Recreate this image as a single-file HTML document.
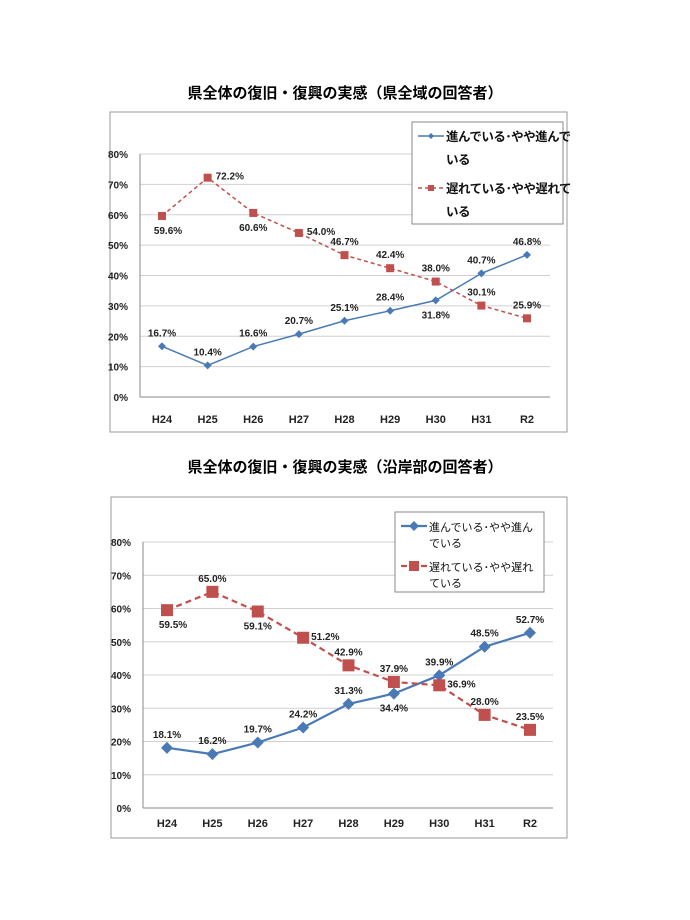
<!DOCTYPE html>
<html><head><meta charset="utf-8">
<style>
body{margin:0;background:#fff;width:690px;height:920px;overflow:hidden;font-family:"Liberation Sans","Noto Sans CJK JP",sans-serif;}
svg{position:absolute;left:0;top:0}
</style></head>
<body>
<svg id="s" width="690" height="920"></svg>
<script>
const categories = ["H24","H25","H26","H27","H28","H29","H30","H31","R2"];
const yTicks = [0,10,20,30,40,50,60,70,80];
const c1Progress = [16.7,10.4,16.6,20.7,25.1,28.4,31.8,40.7,46.8];
const c1Delayed = [59.6,72.2,60.6,54.0,46.7,42.4,38.0,30.1,25.9];
const c2Progress = [18.1,16.2,19.7,24.2,31.3,34.4,39.9,48.5,52.7];
const c2Delayed = [59.5,65.0,59.1,51.2,42.9,37.9,36.9,28.0,23.5];
const c1ProgPos = ["a","a","a","a","a","a","b","a","a"];
const c1DelPos = ["b","r","b","r","a","a","a","a","a"];
const c2ProgPos = ["a","a","a","a","a","b","a","a","a"];
const c2DelPos = ["b","a","b","r","a","a","r","a","a"];
const legendA = ["進んでいる･やや進んで","いる"];
const legendB = ["遅れている･やや遅れて","いる"];
const legendA2 = ["進んでいる･やや進ん","でいる"];
const legendB2 = ["遅れている･やや遅れ","ている"];

const NS="http://www.w3.org/2000/svg";
const svg=document.getElementById('s');
function mk(tag,attrs,parent,text){const e=document.createElementNS(NS,tag);for(const k in attrs)e.setAttribute(k,attrs[k]);if(text!==undefined)e.textContent=text;(parent||svg).appendChild(e);return e;}

function chart(cfg){
  const g=mk('g',{});
  
  
  const t=mk('text',{x:345,y:cfg.titleY,'text-anchor':'middle','font-size':15,'font-weight':'bold',fill:'#000'},g,cfg.title);
  
  
  const fr=mk('rect',{x:cfg.fx,y:cfg.fy,width:cfg.fw,height:cfg.fh,fill:'#fff',stroke:'#999','stroke-width':1},g);
  
  
  const y=v=>cfg.y0+(cfg.y80-cfg.y0)*v/80;
  const x=i=>cfg.xs+i*(cfg.xe-cfg.xs)/(categories.length-1);
  yTicks.forEach(v=>{
    const l=mk('line',{x1:cfg.px0,x2:cfg.px1,y1:y(v),y2:y(v),stroke:v===0?'#888':'#d0d0d0','stroke-width':1},g);
    
    
    const tx=mk('text',{x:cfg.px0-12,y:y(v)+4,'text-anchor':'end','font-size':10,'font-weight':'bold',fill:'#222'},g,v+'%');
    
    
  });
  const ax=mk('line',{x1:cfg.px0,x2:cfg.px0,y1:y(80),y2:y(0),stroke:'#888'},g);
  
  
  categories.forEach((c,i)=>{
    const tx=mk('text',{x:x(i),y:cfg.catY,'text-anchor':'middle','font-size':11,'font-weight':'bold',fill:'#222'},g,c);
    
    
  });
  function series(vals,pos,color,dash,shape,name,ms){
    const pl=mk('polyline',{points:vals.map((v,i)=>x(i)+','+y(v)).join(' '),fill:'none',stroke:color,'stroke-width':cfg.lw,'stroke-dasharray':dash},g);
    
    
    vals.forEach((v,i)=>{
      let m;
      if(shape==='d') m=mk('polygon',{points:`${x(i)},${y(v)-ms} ${x(i)+ms},${y(v)} ${x(i)},${y(v)+ms} ${x(i)-ms},${y(v)}`,fill:color},g);
      else m=mk('rect',{x:x(i)-ms,y:y(v)-ms,width:2*ms,height:2*ms,fill:color},g);
      
      
      let lx=x(i),ly=y(v)-10,anc='middle';
      if(pos[i]==='b'){ly=y(v)+18;}
      if(pos[i]==='r'){lx=x(i)+8;ly=y(v)+2;anc='start';}
      if(pos[i]==='b'&&i===0){lx=x(i)+6;}
      const tx=mk('text',{x:lx,y:ly,'text-anchor':anc,'font-size':10,'font-weight':'bold',fill:'#222'},g,v.toFixed(1)+'%');
      
      
    });
  }
  series(cfg.prog,cfg.progPos,cfg.blue,'','d','progress-series',cfg.ms);
  series(cfg.del,cfg.delPos,cfg.red,cfg.dash,'s','delayed-series',cfg.ms);
  const lg=mk('g',{},g);
  
  
  const L=cfg.leg;
  mk('rect',{x:L.x,y:L.y,width:L.w,height:L.h,fill:'#fff',stroke:'#888'},lg);
  [[cfg.legA,cfg.blue,'','d'],[cfg.legB,cfg.red,cfg.dash,'s']].forEach((e,k)=>{
    const ey=L.y+14+k*L.step;
    const eg=mk('g',{},lg);
    
    
    mk('line',{x1:L.x+6,x2:L.x+32,y1:ey,y2:ey,stroke:e[1],'stroke-width':cfg.lw,'stroke-dasharray':e[2]},eg);
    const cx=L.x+19,ms=cfg.ms-1;
    if(e[3]==='d') mk('polygon',{points:`${cx},${ey-ms} ${cx+ms},${ey} ${cx},${ey+ms} ${cx-ms},${ey}`,fill:e[1]},eg);
    else mk('rect',{x:cx-ms,y:ey-ms,width:2*ms,height:2*ms,fill:e[1]},eg);
    mk('text',{x:L.x+34,y:ey+5,'font-size':L.fs,'font-weight':L.fw,'letter-spacing':L.ls,fill:'#111'},eg,e[0][0]);
    mk('text',{x:L.x+34,y:ey+5+L.lh,'font-size':L.fs,'font-weight':L.fw,'letter-spacing':L.ls,fill:'#111'},eg,e[0][1]);
  });
}

chart({name:'chart-prefecture-wide',title:'県全体の復旧・復興の実感（県全域の回答者）',titleY:98,
 fx:110,fy:112,fw:457,fh:320,px0:140,px1:550,y0:397,y80:154,xs:162,xe:527,catY:423,
 prog:c1Progress,del:c1Delayed,progPos:c1ProgPos,delPos:c1DelPos,blue:'#4a7ab5',red:'#c0504d',dash:'4,3',lw:1.5,ms:4,
 legA:legendA,legB:legendB,leg:{x:412,y:122,w:151,h:102,step:52,lh:23,fs:12.5,fw:'bold',ls:-0.5}});
chart({name:'chart-coastal',title:'県全体の復旧・復興の実感（沿岸部の回答者）',titleY:472,
 fx:111,fy:497,fw:456,fh:341,px0:143,px1:553,y0:808,y80:542,xs:167,xe:530,catY:827,
 prog:c2Progress,del:c2Delayed,progPos:c2ProgPos,delPos:c2DelPos,blue:'#4a7ab5',red:'#c0504d',dash:'6,4',lw:2.2,ms:6,
 legA:legendA2,legB:legendB2,leg:{x:395,y:512,w:149,h:80,step:40,lh:16,fs:11,fw:'normal',ls:0}});
</script>
</body></html>
